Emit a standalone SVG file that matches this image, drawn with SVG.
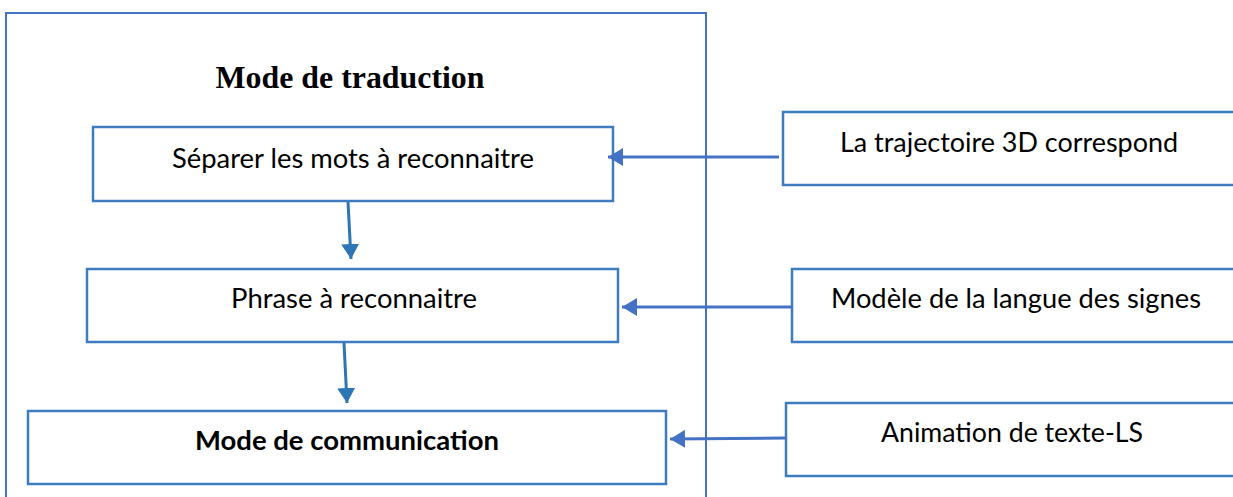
<svg xmlns="http://www.w3.org/2000/svg" width="1233" height="497" viewBox="0 0 1233 497">
<style>
.box{fill:#fff;stroke:#3E7CC0;stroke-width:2.5}
.outer{fill:none;stroke:#4472C4;stroke-width:2}
.t{font-family:Lato,"Liberation Sans",Arial,sans-serif;font-size:26px;fill:#000;text-anchor:middle}
.b{font-weight:bold}
.title{font-family:"Liberation Serif","Times New Roman",serif;font-size:31px;font-weight:bold;fill:#000;text-anchor:middle}
.c{stroke:#4472C4;stroke-width:3;fill:none;marker-end:url(#ah)}
.cd{stroke:#2E75B6;stroke-width:3;fill:none;marker-end:url(#ahd)}
</style>
<defs>
<marker id="ah" markerWidth="6" markerHeight="6" refX="5" refY="3" orient="auto" markerUnits="strokeWidth"><path d="M0,0 L5,3 L0,6 z" fill="#4472C4"/></marker>
<marker id="ahd" markerWidth="6" markerHeight="6" refX="5" refY="3" orient="auto" markerUnits="strokeWidth"><path d="M0,0 L5,3 L0,6 z" fill="#2E75B6"/></marker>
</defs>
<rect width="1233" height="497" fill="#fff"/>
<g id="outer">
<rect class="outer" x="6" y="13" width="700" height="500"/>
<text class="title" x="350" y="88" textLength="269" lengthAdjust="spacingAndGlyphs">Mode de traduction</text>
</g>
<g id="n1"><rect class="box" x="93" y="127" width="520" height="74"/><text class="t" x="353" y="168" textLength="362" lengthAdjust="spacingAndGlyphs">Séparer les mots à reconnaitre</text></g>
<g id="n2"><rect class="box" x="87" y="269" width="531" height="73"/><text class="t" x="354" y="308" textLength="246" lengthAdjust="spacingAndGlyphs">Phrase à reconnaitre</text></g>
<g id="n3"><rect class="box" x="28" y="411" width="638" height="73"/><text class="t b" x="347" y="450" textLength="304" lengthAdjust="spacingAndGlyphs">Mode de communication</text></g>
<g id="r1"><rect class="box" x="783" y="112" width="460" height="73"/><text class="t" x="1009" y="152" textLength="338" lengthAdjust="spacingAndGlyphs">La trajectoire 3D correspond</text></g>
<g id="r2"><rect class="box" x="792" y="269" width="451" height="73"/><text class="t" x="1016" y="308" textLength="370" lengthAdjust="spacingAndGlyphs">Modèle de la langue des signes</text></g>
<g id="r3"><rect class="box" x="786" y="403" width="457" height="73"/><text class="t" x="1012" y="442" textLength="262" lengthAdjust="spacingAndGlyphs">Animation de texte-LS</text></g>
<g id="connectors">
<line class="c" x1="779" y1="157" x2="608" y2="157"/>
<line class="c" x1="792" y1="307" x2="622" y2="307"/>
<line class="c" x1="786" y1="438" x2="670" y2="439"/>
<line class="cd" x1="348" y1="202" x2="351" y2="259"/>
<line class="cd" x1="344" y1="343" x2="347" y2="403"/>
</g>
</svg>
